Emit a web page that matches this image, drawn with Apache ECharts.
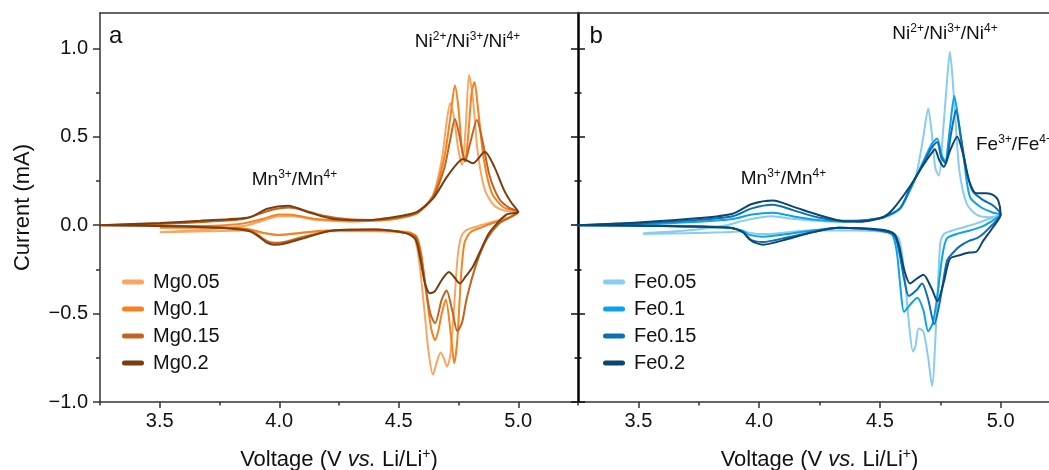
<!DOCTYPE html>
<html><head><meta charset="utf-8">
<script src="https://cdn.jsdelivr.net/npm/echarts@6/dist/echarts.min.js"></script>
<style>html,body{margin:0;padding:0;background:#fff;overflow:hidden;}#c{width:1049px;height:470px;}</style>
</head><body><div id="c"></div>
<script>
// ---- tick labels ----
const xTickValues = [3.5, 4.0, 4.5, 5.0];
const xMinorTickValues = [3.25, 3.75, 4.25, 4.75, 5.25];
const yTickValues = [-1.0, -0.5, 0.0, 0.5, 1.0];
const yMinorTickValues = [-0.75, -0.25, 0.25, 0.75];

// ---- series names ----
const mgNames = ['Mg0.05', 'Mg0.1', 'Mg0.15', 'Mg0.2'];
const feNames = ['Fe0.05', 'Fe0.1', 'Fe0.15', 'Fe0.2'];

// ---- CV loops [voltage, current]: anodic scan then cathodic scan ----
const mg005 = [[3.5,-0.04],[3.7,-0.025],[3.85,-0.005],[3.93,0.025],[4.0,0.05],[4.06,0.05],[4.15,0.03],[4.3,0.02],[4.45,0.03],[4.52,0.045],[4.58,0.07],[4.643,0.17],[4.68,0.37],[4.70,0.58],[4.715,0.69],[4.73,0.62],[4.75,0.42],[4.765,0.34],[4.78,0.55],[4.794,0.85],[4.81,0.72],[4.83,0.42],[4.86,0.2],[4.9,0.11],[4.95,0.08],[5.0,0.075],
  [4.97,0.05],[4.92,0.03],[4.87,0.01],[4.82,-0.01],[4.78,-0.03],[4.76,-0.07],[4.745,-0.2],[4.73,-0.5],[4.715,-0.74],[4.702,-0.80],[4.688,-0.75],[4.675,-0.72],[4.66,-0.77],[4.643,-0.845],[4.625,-0.72],[4.605,-0.45],[4.585,-0.2],[4.565,-0.07],[4.53,-0.045],[4.4,-0.035],[4.2,-0.035],[4.08,-0.045],[4.0,-0.055],[3.96,-0.05],[3.91,-0.04],[3.86,-0.03],[3.7,-0.035],[3.5,-0.04]];
const mg010 = [[3.5,-0.015],[3.7,-0.005],[3.85,0.01],[3.93,0.035],[4.0,0.06],[4.06,0.058],[4.15,0.035],[4.3,0.025],[4.45,0.03],[4.52,0.045],[4.58,0.07],[4.643,0.16],[4.69,0.38],[4.715,0.60],[4.735,0.79],[4.75,0.66],[4.765,0.42],[4.778,0.37],[4.79,0.5],[4.805,0.75],[4.817,0.81],[4.83,0.68],[4.855,0.38],[4.89,0.18],[4.94,0.1],[5.0,0.075],
  [4.96,0.04],[4.9,0.015],[4.85,-0.01],[4.8,-0.04],[4.775,-0.1],[4.76,-0.3],[4.745,-0.65],[4.732,-0.78],[4.718,-0.62],[4.697,-0.42],[4.68,-0.5],[4.665,-0.6],[4.652,-0.65],[4.635,-0.58],[4.615,-0.38],[4.595,-0.17],[4.575,-0.065],[4.54,-0.04],[4.4,-0.03],[4.2,-0.03],[4.08,-0.045],[4.0,-0.055],[3.96,-0.05],[3.91,-0.035],[3.86,-0.02],[3.7,-0.015],[3.5,-0.015]];
const mg015 = [[3.25,0.0],[3.5,0.008],[3.7,0.02],[3.85,0.035],[3.93,0.07],[3.98,0.09],[4.04,0.10],[4.1,0.085],[4.18,0.055],[4.28,0.035],[4.4,0.03],[4.5,0.045],[4.576,0.07],[4.643,0.16],[4.69,0.32],[4.715,0.48],[4.735,0.60],[4.755,0.50],[4.777,0.36],[4.80,0.47],[4.827,0.595],[4.85,0.48],[4.88,0.28],[4.92,0.15],[4.96,0.1],[5.0,0.075],
  [4.96,0.04],[4.92,0.01],[4.87,-0.075],[4.827,-0.21],[4.785,-0.41],[4.765,-0.55],[4.745,-0.60],[4.725,-0.49],[4.70,-0.37],[4.68,-0.42],[4.652,-0.555],[4.632,-0.50],[4.61,-0.33],[4.59,-0.15],[4.57,-0.065],[4.53,-0.045],[4.4,-0.025],[4.225,-0.03],[4.09,-0.07],[4.02,-0.095],[3.98,-0.10],[3.95,-0.09],[3.91,-0.055],[3.877,-0.03],[3.8,-0.015],[3.6,-0.005],[3.25,0.0]];
const mg020 = [[3.25,0.0],[3.5,0.012],[3.67,0.025],[3.877,0.045],[3.95,0.093],[4.037,0.11],[4.13,0.07],[4.225,0.035],[4.37,0.028],[4.5,0.05],[4.576,0.075],[4.643,0.15],[4.70,0.27],[4.745,0.35],[4.769,0.375],[4.81,0.35],[4.86,0.415],[4.9,0.33],[4.94,0.2],[4.97,0.13],[5.0,0.075],
  [4.95,0.06],[4.88,-0.04],[4.84,-0.15],[4.81,-0.235],[4.78,-0.29],[4.756,-0.33],[4.73,-0.29],[4.71,-0.265],[4.68,-0.31],[4.65,-0.375],[4.63,-0.385],[4.61,-0.33],[4.59,-0.19],[4.57,-0.08],[4.53,-0.045],[4.4,-0.025],[4.225,-0.03],[4.087,-0.08],[4.02,-0.105],[3.98,-0.11],[3.95,-0.1],[3.91,-0.06],[3.877,-0.035],[3.8,-0.02],[3.6,-0.008],[3.25,0.0]];

const fe005 = [[3.52,-0.045],[3.7,-0.03],[3.85,-0.005],[3.95,0.03],[4.05,0.05],[4.15,0.035],[4.3,0.02],[4.45,0.03],[4.513,0.04],[4.583,0.09],[4.625,0.2],[4.653,0.3],[4.68,0.5],[4.70,0.66],[4.715,0.52],[4.73,0.32],[4.745,0.28],[4.76,0.5],[4.78,0.85],[4.79,0.98],[4.80,0.85],[4.815,0.55],[4.83,0.3],[4.86,0.12],[4.9,0.06],[4.95,0.045],[5.0,0.055],
  [4.95,0.035],[4.9,0.01],[4.85,-0.01],[4.8,-0.03],[4.765,-0.05],[4.75,-0.1],[4.735,-0.5],[4.716,-0.91],[4.70,-0.75],[4.68,-0.6],[4.66,-0.585],[4.648,-0.68],[4.637,-0.715],[4.62,-0.55],[4.6,-0.25],[4.58,-0.08],[4.55,-0.045],[4.4,-0.03],[4.2,-0.03],[4.08,-0.045],[4.016,-0.05],[3.97,-0.045],[3.93,-0.035],[3.85,-0.04],[3.7,-0.045],[3.52,-0.05]];
const fe010 = [[3.25,0.0],[3.5,0.005],[3.75,0.02],[3.89,0.035],[3.97,0.06],[4.057,0.07],[4.14,0.05],[4.24,0.03],[4.35,0.02],[4.45,0.03],[4.513,0.045],[4.583,0.095],[4.625,0.2],[4.68,0.36],[4.715,0.46],[4.737,0.49],[4.755,0.40],[4.77,0.36],[4.79,0.55],[4.808,0.73],[4.825,0.6],[4.85,0.35],[4.873,0.16],[4.92,0.1],[4.97,0.07],[5.0,0.06],
  [4.96,0.02],[4.92,-0.01],[4.873,-0.03],[4.83,-0.045],[4.777,-0.075],[4.757,-0.19],[4.74,-0.38],[4.72,-0.55],[4.70,-0.60],[4.68,-0.48],[4.655,-0.41],[4.625,-0.45],[4.60,-0.49],[4.585,-0.35],[4.57,-0.15],[4.55,-0.05],[4.5,-0.03],[4.33,-0.015],[4.22,-0.03],[4.115,-0.05],[4.016,-0.065],[3.96,-0.055],[3.93,-0.03],[3.85,-0.01],[3.6,-0.003],[3.25,0.0]];
const fe015 = [[3.25,0.0],[3.5,0.01],[3.75,0.03],[3.89,0.05],[3.97,0.095],[4.057,0.115],[4.14,0.085],[4.24,0.045],[4.35,0.025],[4.45,0.03],[4.513,0.045],[4.583,0.095],[4.625,0.21],[4.68,0.35],[4.715,0.44],[4.737,0.47],[4.755,0.38],[4.772,0.35],[4.795,0.52],[4.815,0.65],[4.835,0.5],[4.86,0.3],[4.885,0.19],[4.93,0.14],[4.97,0.11],[5.0,0.06],
  [4.964,0.0],[4.927,-0.05],[4.9,-0.075],[4.867,-0.09],[4.83,-0.12],[4.8,-0.16],[4.778,-0.2],[4.75,-0.42],[4.725,-0.56],[4.70,-0.42],[4.675,-0.33],[4.65,-0.37],[4.62,-0.40],[4.60,-0.3],[4.58,-0.15],[4.56,-0.06],[4.5,-0.03],[4.33,-0.015],[4.22,-0.04],[4.115,-0.07],[4.016,-0.095],[3.96,-0.08],[3.933,-0.04],[3.88,-0.015],[3.6,-0.005],[3.25,0.0]];
const fe020 = [[3.25,0.0],[3.5,0.015],[3.755,0.04],[3.89,0.065],[3.97,0.12],[4.057,0.14],[4.14,0.105],[4.24,0.06],[4.335,0.025],[4.418,0.02],[4.513,0.045],[4.554,0.09],[4.625,0.22],[4.68,0.34],[4.71,0.40],[4.728,0.43],[4.745,0.37],[4.765,0.33],[4.79,0.42],[4.82,0.50],[4.845,0.40],[4.87,0.25],[4.90,0.18],[4.94,0.18],[4.97,0.17],[4.99,0.14],[5.0,0.06],
  [4.964,-0.02],[4.927,-0.09],[4.90,-0.15],[4.87,-0.155],[4.83,-0.17],[4.79,-0.19],[4.765,-0.32],[4.738,-0.43],[4.715,-0.36],[4.68,-0.28],[4.655,-0.30],[4.625,-0.33],[4.60,-0.25],[4.58,-0.12],[4.56,-0.05],[4.5,-0.025],[4.33,-0.015],[4.22,-0.04],[4.115,-0.08],[4.016,-0.11],[3.97,-0.09],[3.933,-0.04],[3.88,-0.015],[3.6,-0.005],[3.25,0.0]];

const mgColors = ['#F8A664', '#F5821F', '#C4631C', '#7A3D10'];
const feColors = ['#86CDF0', '#0AA3EA', '#0B6FB6', '#0B4672'];

const FONT = "'Liberation Sans', Arial, sans-serif";
const TXT = '#111';
const capsule = 'path://M2.5,0 H19.5 A2.5,2.5 0 0 1 19.5,5 H2.5 A2.5,2.5 0 0 1 2.5,0 Z';

function fmtY(v) { return (v < 0 ? '\u2212' : '') + Math.abs(v).toFixed(1); }

function xAxes(grid) {
  return [{
    gridIndex: grid, type: 'value', min: 3.25, max: 5.25, position: 'bottom',
    axisLine: { show: true, onZero: false, lineStyle: { color: '#333', width: 1.5 } },
    axisTick: { show: true, customValues: xTickValues, length: 6, lineStyle: { color: '#333', width: 1.5 } },
    axisLabel: { customValues: xTickValues, formatter: v => v.toFixed(1), fontSize: 20, color: TXT, fontFamily: FONT, margin: 9 },
    splitLine: { show: false },
    name: 'Voltage (V {i|vs.} Li/Li{s|+})', nameLocation: 'middle', nameGap: 45,
    nameTextStyle: { fontSize: 22, color: TXT, fontFamily: FONT, lineHeight: 26,
      rich: { i: { fontSize: 22, fontStyle: 'italic', color: TXT, fontFamily: FONT, lineHeight: 26 },
              s: { fontSize: 14, color: TXT, fontFamily: FONT, verticalAlign: 'top', lineHeight: 16 } } }
  }, {
    gridIndex: grid, type: 'value', min: 3.25, max: 5.25, position: 'bottom',
    axisLine: { show: false, onZero: false },
    axisTick: { show: true, customValues: xMinorTickValues, length: 3.5, lineStyle: { color: '#333', width: 1.5 } },
    axisLabel: { show: false }, splitLine: { show: false }
  }, {
    // top frame line
    gridIndex: grid, type: 'value', min: 3.25, max: 5.25, position: 'top',
    axisLine: { show: true, onZero: false, lineStyle: { color: '#333', width: 1.5 } },
    axisTick: { show: false }, axisLabel: { show: false }, splitLine: { show: false }
  }];
}
function yAxis(grid, opts) {
  return Object.assign({
    gridIndex: grid, type: 'value', min: -1, max: 1.2, position: 'left',
    axisLine: { show: false, onZero: false }, axisLabel: { show: false }, splitLine: { show: false }
  }, opts);
}

const yAxes = [
  yAxis(0, {
    axisLine: { show: true, onZero: false, lineStyle: { color: '#333', width: 1.5 } },
    axisTick: { show: true, customValues: yTickValues, length: 7, lineStyle: { color: '#333', width: 1.5 } },
    axisLabel: { show: true, customValues: yTickValues, formatter: fmtY, fontSize: 20, color: TXT, fontFamily: FONT, margin: 12 },
    name: 'Current (mA)', nameLocation: 'middle', nameGap: 66,
    nameTextStyle: { fontSize: 22, color: TXT, fontFamily: FONT }
  }),
  yAxis(0, { axisTick: { show: true, customValues: yMinorTickValues, length: 4, lineStyle: { color: '#333', width: 1.5 } } }),
  yAxis(1, {
    axisLine: { show: true, onZero: false, lineStyle: { color: '#000', width: 2.5 } },
    axisTick: { show: true, customValues: yTickValues, length: 7, lineStyle: { color: '#111', width: 1.5 } }
  }),
  yAxis(1, { axisTick: { show: true, customValues: yMinorTickValues, length: 3.5, lineStyle: { color: '#111', width: 1.5 } } }),
  yAxis(1, { axisTick: { show: true, inside: true, customValues: yTickValues, length: 7, lineStyle: { color: '#111', width: 1.5 } } }),
  yAxis(1, { axisTick: { show: true, inside: true, customValues: yMinorTickValues, length: 3.5, lineStyle: { color: '#111', width: 1.5 } } })
];

function mkSeries(name, data, color, xi, yi) {
  return { name, type: 'line', data, xAxisIndex: xi, yAxisIndex: yi, smooth: 0.25,
    symbol: 'none', showSymbol: false, color, itemStyle: { color },
    lineStyle: { color, width: 2 }, emphasis: { disabled: true }, z: 3 };
}
const mgData = [mg005, mg010, mg015, mg020];
const feData = [fe005, fe010, fe015, fe020];
const series = [];
mgNames.forEach((n, i) => series.push(mkSeries(n, mgData[i], mgColors[i], 0, 0)));
feNames.forEach((n, i) => series.push(mkSeries(n, feData[i], feColors[i], 3, 2)));

function legend(names, left) {
  return { data: names, orient: 'vertical', left, top: 272, padding: 0, itemWidth: 22, itemHeight: 5, itemGap: 7,
    icon: capsule, selectedMode: false,
    textStyle: { fontSize: 20, color: TXT, fontFamily: FONT, lineHeight: 20, padding: [0, 0, 0, 4] } };
}

const richSup = { s: { fontSize: 12, fontFamily: FONT, fill: TXT, verticalAlign: 'top', lineHeight: 12 } };
function note(text, x, y, align, size) {
  return { type: 'text', x, y, z: 10, silent: true,
    style: { text, fontSize: size || 19, fontFamily: FONT, fill: TXT, align: align || 'center', verticalAlign: 'middle', lineHeight: 22, rich: richSup } };
}

const gridBase = { top: 13, height: 389, show: false, containLabel: false, outerBoundsMode: 'none' };

const chart = echarts.init(document.getElementById('c'), null, { renderer: 'canvas' });
chart.setOption({
  animation: false,
  backgroundColor: '#fff',
  grid: [
    Object.assign({ left: 100, width: 478 }, gridBase),
    Object.assign({ left: 578, width: 483 }, gridBase)
  ],
  xAxis: xAxes(0).concat(xAxes(1)),
  yAxis: yAxes,
  legend: [legend(mgNames, 122), legend(feNames, 603)],
  series,
  graphic: [
    note('a', 109, 36.6, 'left', 24),
    note('b', 589.5, 36.6, 'left', 24),
    note('Ni{s|2+}/Ni{s|3+}/Ni{s|4+}', 467.5, 41.4),
    note('Mn{s|3+}/Mn{s|4+}', 294.5, 179.4),
    note('Ni{s|2+}/Ni{s|3+}/Ni{s|4+}', 945, 33.4),
    note('Mn{s|3+}/Mn{s|4+}', 783.5, 178.4),
    note('Fe{s|3+}/Fe{s|4+}', 976, 144.4, 'left')
  ]
});
</script></body></html>
